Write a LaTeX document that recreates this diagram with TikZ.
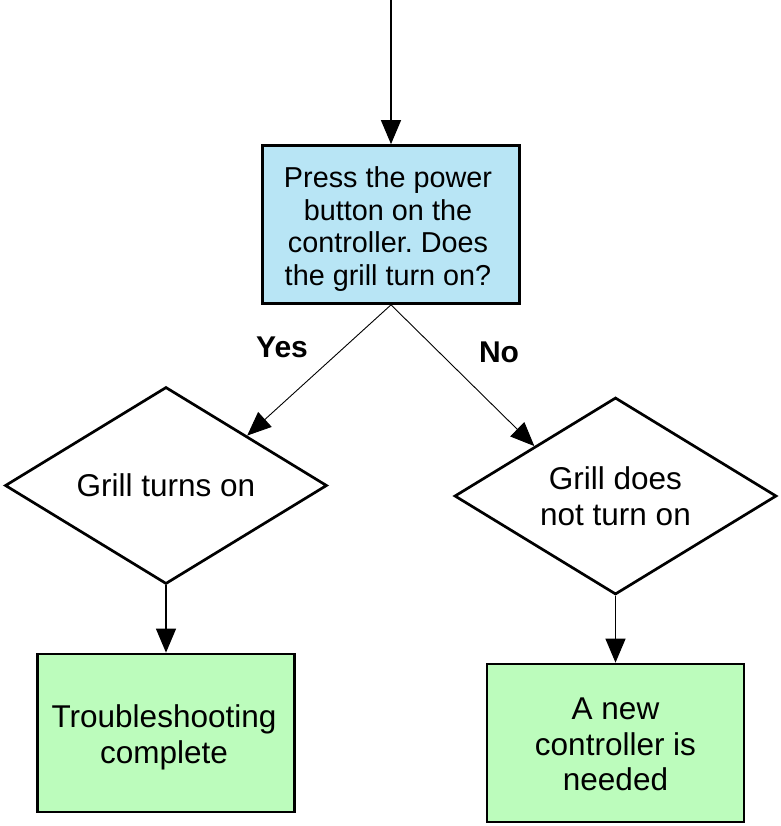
\documentclass[tikz,border=0pt]{standalone}
\usepackage{fontspec}
\setmainfont{Liberation Sans}
\frenchspacing
\usetikzlibrary{arrows.meta,shapes.geometric}
\definecolor{askblue}{RGB}{184,229,245}
\definecolor{donegreen}{RGB}{188,252,188}
\begin{document}
\begin{tikzpicture}[x=1pt,y=-1pt,
  box/.style={draw, line width=2.7pt, minimum width=257pt, minimum height=158pt,
    inner sep=0pt},
  question/.style={box, fill=askblue},
  result/.style={box, fill=donegreen},
  asktext/.style={align=center, inner sep=0pt, font=\fontsize{28.8}{32.6}\selectfont},
  resulttext/.style={align=center, inner sep=0pt, font=\fontsize{31.5}{35.5}\selectfont},
  choice/.style={diamond, draw, line width=2.7pt, minimum width=322pt,
    minimum height=197pt, shape aspect=1.63, inner sep=0pt, align=center,
    font=\fontsize{31.5}{36}\selectfont},
  branch/.style={font=\fontsize{30}{34}\selectfont\bfseries},
  flow/.style={-{Triangle[length=24pt,width=20pt]}, line width=1.2pt},
  split/.style={-{Triangle[length=24pt,width=20pt]}, line width=0.9pt}]
\useasboundingbox (0,0) rectangle (780,826);

\coordinate (entry) at (391,0);
\node[question, label={[asktext, xshift=-3pt, yshift=-4.5pt]center:Press the power\\button on the\\controller. Does\\the grill turn on?}]
  (ask) at (391,224.5) {};

\node[choice] (on)  at (166,485.5) {Grill turns on};
\node[choice] (off) at (615.5,496) {Grill does\\not turn on};

\node[result, label={[resulttext, xshift=-2pt, yshift=-4.5pt]center:Troubleshooting\\complete}]
  (done) at (166,733) {};
\node[result, label={[resulttext, yshift=-1.5pt]center:A new\\controller is\\needed}]
  (new)  at (615.5,743) {};

\node[branch] (yes) at (282,347) {Yes};
\node[branch] (no)  at (499,352) {No};

\draw[flow] (entry) -- (ask.north);
\draw[split] (ask.south) -- (on.north east);
\draw[split] (ask.south) -- (off.north west);
\draw[flow] (on.south) -- (done.north);
\draw[flow] (off.south) -- (new.north);
\end{tikzpicture}
\end{document}
